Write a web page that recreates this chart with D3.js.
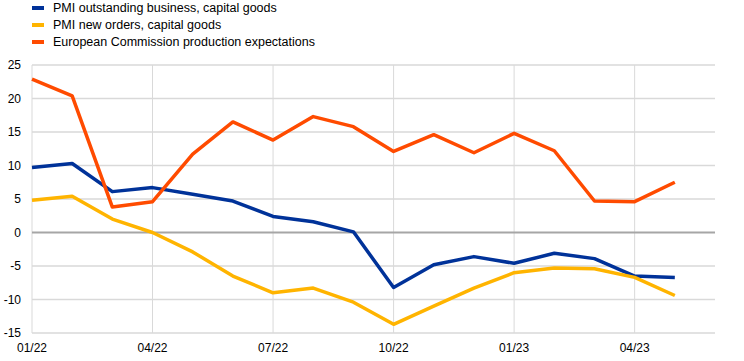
<!DOCTYPE html>
<html lang="en"><head><meta charset="UTF-8">
<title>Capital goods indicators</title>
<style>
	body { margin: 0; background: #fff; }
	svg text { font-family: 'Liberation Sans', Arial, sans-serif; font-size: 12px; fill: #000; }
	svg .legend text { font-size: 12.5px; }
</style>
<script src="https://cdn.jsdelivr.net/npm/d3@7"></script>
</head>
<body>
<div id="chart"></div>
<script>
	// monthly, 01/22 .. 05/23
	var months = ["01/22","02/22","03/22","04/22","05/22","06/22","07/22","08/22","09/22",
		"10/22","11/22","12/22","01/23","02/23","03/23","04/23","05/23"];
	var tickLabels = ["01/22","04/22","07/22","10/22","01/23","04/23"];
	var yTicks = [-15, -10, -5, 0, 5, 10, 15, 20, 25];

	var pmiOutstanding = [9.7, 10.3, 6.1, 6.7, 5.7, 4.7, 2.4, 1.6, 0.1, -8.2, -4.8, -3.6, -4.6, -3.1, -3.9, -6.5, -6.7];
	var pmiNewOrders = [4.8, 5.4, 2.0, 0.0, -2.9, -6.5, -9.0, -8.3, -10.4, -13.7, -11.0, -8.3, -6.0, -5.3, -5.4, -6.7, -9.4];
	var ecProduction = [22.9, 20.4, 3.8, 4.6, 11.7, 16.5, 13.8, 17.3, 15.8, 12.1, 14.6, 11.9, 14.8, 12.2, 4.7, 4.6, 7.5];

	var seriesNames = ["PMI outstanding business, capital goods", "PMI new orders, capital goods",
		"European Commission production expectations"];
	var colors = ["#003299", "#ffb400", "#ff4b00"];
	var series = [pmiOutstanding, pmiNewOrders, ecProduction];

	var W = 744, H = 361;
	var pLeft = 32, pRight = 715, pTop = 65, pBottom = 333;

	var svg = d3.select("#chart").append("svg")
		.attr("width", W).attr("height", H);

	var x = d3.scaleLinear().domain([0, 17]).range([pLeft, pRight]);
	var y = d3.scaleLinear().domain([-15, 25]).range([pBottom, pTop]);

	// horizontal grid
	svg.append("g").selectAll("line")
		.data(yTicks.filter(function(d){ return d !== 0; }))
		.enter().append("line")
		.attr("x1", pLeft).attr("x2", pRight)
		.attr("y1", function(d){ return y(d); }).attr("y2", function(d){ return y(d); })
		.attr("stroke", "#d9d9d9").attr("stroke-width", 1.3);

	// vertical grid every 3 months
	svg.append("g").selectAll("line")
		.data(tickLabels)
		.enter().append("line")
		.attr("x1", function(d){ return x(months.indexOf(d)); })
		.attr("x2", function(d){ return x(months.indexOf(d)); })
		.attr("y1", pTop).attr("y2", pBottom)
		.attr("stroke", "#d9d9d9").attr("stroke-width", 1);

	// zero line
	svg.append("line")
		.attr("x1", pLeft).attr("x2", pRight)
		.attr("y1", y(0)).attr("y2", y(0))
		.attr("stroke", "#a6a6a6").attr("stroke-width", 2);

	// y labels
	svg.append("g").selectAll("text")
		.data(yTicks)
		.enter().append("text")
		.attr("x", 21).attr("y", function(d){ return y(d) + 4; })
		.attr("text-anchor", "end")
		.text(function(d){ return d; });

	// x labels
	svg.append("g").selectAll("text")
		.data(tickLabels)
		.enter().append("text")
		.attr("x", function(d){ return x(months.indexOf(d)); })
		.attr("y", 352)
		.attr("text-anchor", "middle")
		.text(function(d){ return d; });

	var line = d3.line()
		.x(function(d, i){ return x(i); })
		.y(function(d){ return y(d); });

	svg.append("g").selectAll("path")
		.data(series)
		.enter().append("path")
		.attr("d", line)
		.attr("fill", "none")
		.attr("stroke", function(d, i){ return colors[i]; })
		.attr("stroke-width", 3.5)
		.attr("stroke-linejoin", "round");

	// legend
	var lg = svg.append("g").attr("class", "legend").selectAll("g")
		.data(seriesNames)
		.enter().append("g")
		.attr("transform", function(d, i){ return "translate(32," + (8 + i * 17) + ")"; });
	lg.append("rect")
		.attr("x", 0).attr("y", -2).attr("width", 12).attr("height", 4)
		.attr("fill", function(d, i){ return colors[i]; });
	lg.append("text")
		.attr("x", 21).attr("y", 4)
		.text(function(d){ return d; });
</script>
</body></html>
